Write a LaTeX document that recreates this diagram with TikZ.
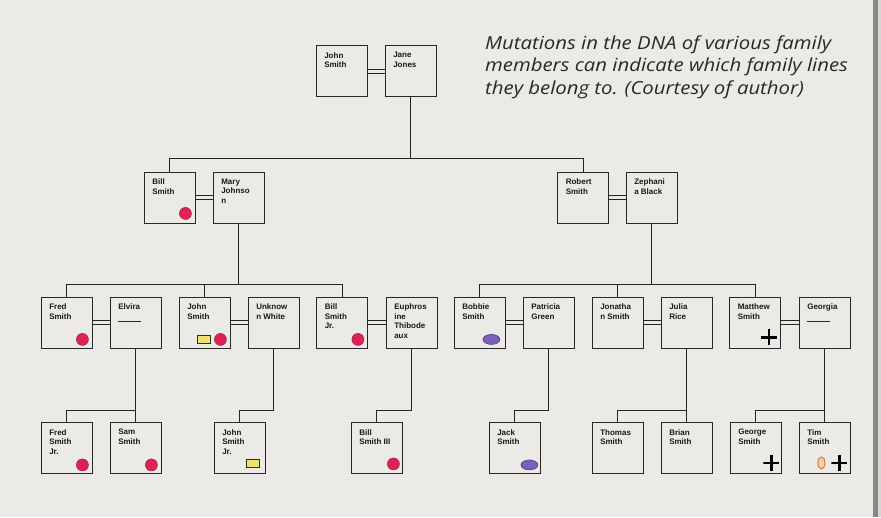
\documentclass[tikz,border=0pt]{standalone}
\usepackage{fontspec}
\setmainfont{Liberation Sans}
\newfontfamily\capfont[FakeStretch=1.13]{Open Sans}
\usetikzlibrary{shapes.geometric}
\definecolor{bgc}{RGB}{236,234,231}
\definecolor{boxc}{RGB}{40,40,40}
\definecolor{linec}{RGB}{35,35,35}
\definecolor{txtc}{RGB}{25,25,25}
\definecolor{capc}{RGB}{40,40,40}
\definecolor{redc}{RGB}{222,34,84}
\definecolor{redd}{RGB}{150,30,60}
\definecolor{purc}{RGB}{122,96,190}
\definecolor{purd}{RGB}{70,50,120}
\definecolor{yelc}{RGB}{238,226,112}
\definecolor{yeld}{RGB}{50,45,20}
\definecolor{orac}{RGB}{242,205,175}
\definecolor{orad}{RGB}{214,120,70}
\definecolor{stripc}{RGB}{135,135,135}
\definecolor{edgec}{RGB}{215,214,212}
\tikzset{
  person/.style={draw=boxc, line width=0.85pt, fill=bgc, minimum width=51pt, minimum height=51pt, inner sep=0pt},
  nm/.style={anchor=north west, inner sep=0pt, align=left, text=txtc, font=\fontsize{8}{9.5}\selectfont\bfseries},
  link/.style={draw=linec, line width=0.75pt},
  wedline/.style={draw=linec, line width=0.65pt},
  redm/.style={circle, fill=redc, draw=redd, line width=0.5pt, minimum size=12pt, inner sep=0pt},
  purm/.style={ellipse, fill=purc, draw=purd, line width=0.5pt, minimum width=17pt, minimum height=10pt, inner sep=0pt},
  yelm/.style={rectangle, fill=yelc, draw=yeld, line width=0.9pt, minimum width=13pt, minimum height=8pt, inner sep=0pt},
  oram/.style={ellipse, fill=orac, draw=orad, line width=1pt, minimum width=7pt, minimum height=12pt, inner sep=0pt},
  crossm/.style={rectangle, minimum size=16pt, inner sep=0pt,
    path picture={\draw[line width=2.8pt, black]
      (path picture bounding box.north) -- (path picture bounding box.south)
      (path picture bounding box.west) -- (path picture bounding box.east);}},
  blank/.style={draw=boxc, line width=0.9pt}
}
\newcommand{\famperson}[4]{%
  \node[person] (#1) at (#2,#3) {};
  \node[nm] (#1-t) at ([shift={(8.5,7)}]#1.north west) {#4};
}
\newcommand{\wed}[2]{%
  \draw[wedline] ([yshift=2pt]#1.east) -- ([yshift=2pt]#2.west);
  \draw[wedline] ([yshift=-2pt]#1.east) -- ([yshift=-2pt]#2.west);
}
\begin{document}
\begin{tikzpicture}[x=1pt,y=-1pt]
\fill[bgc] (0,0) rectangle (881,517);
\useasboundingbox (0,0) rectangle (881,517);
\fill[stripc] (873,0) rectangle (878,517);
\fill[edgec] (878,0) rectangle (881,517);

% caption
\node[anchor=north west, inner sep=0pt, align=left, text=capc,
      font=\capfont\itshape\fontsize{18}{22.5}\selectfont] (cap) at (485,35.5)
  {Mutations in the DNA of various family\\members can indicate which family lines\\they belong to. (Courtesy of author)};

% generation 1
\famperson{js}{341.5}{71}{John\\Smith}
\famperson{jj}{410.5}{71}{Jane\\Jones}

% generation 2
\famperson{bs}{169.5}{197.5}{Bill\\Smith}
\famperson{mj}{238.5}{197.5}{Mary\\Johnso\\n}
\famperson{rs}{583}{197.5}{Robert\\Smith}
\famperson{zb}{651.5}{197.5}{Zephani\\a Black}

% generation 3
\famperson{fs}{66.5}{322.5}{Fred\\Smith}
\famperson{el}{135.5}{322.5}{Elvira}
\famperson{jo}{204.5}{322.5}{John\\Smith}
\famperson{uw}{273.5}{322.5}{Unknow\\n White}
\famperson{bj}{342}{322.5}{Bill\\Smith\\Jr.}
\famperson{et}{411.5}{322.5}{Euphros\\ine\\Thibode\\aux}
\famperson{bo}{479.5}{322.5}{Bobbie\\Smith}
\famperson{pg}{548.5}{322.5}{Patricia\\Green}
\famperson{jn}{617.5}{322.5}{Jonatha\\n Smith}
\famperson{jr}{686.5}{322.5}{Julia\\Rice}
\famperson{ms}{755}{322.5}{Matthew\\Smith}
\famperson{ge}{824.5}{322.5}{Georgia}

% generation 4
\famperson{fj}{66.5}{448}{Fred\\Smith\\Jr.}
\famperson{ss}{135.5}{448}{Sam\\Smith}
\famperson{jj4}{239.5}{448}{John\\Smith\\Jr.}
\famperson{b3}{376.5}{448}{Bill\\Smith III}
\famperson{ja}{514.5}{448}{Jack\\Smith}
\famperson{ts}{617.5}{448}{Thomas\\Smith}
\famperson{br}{686.5}{448}{Brian\\Smith}
\famperson{gs}{755.5}{448}{George\\Smith}
\famperson{ti}{824.5}{448}{Tim\\Smith}

% blank-spouse dashes
\draw[blank] ([shift={(8,25)}]el.north west) -- ([shift={(31,25)}]el.north west);
\draw[blank] ([shift={(8,25)}]ge.north west) -- ([shift={(31,25)}]ge.north west);

% marriages
\wed{js}{jj}
\wed{bs}{mj}
\wed{rs}{zb}
\wed{fs}{el}
\wed{jo}{uw}
\wed{bj}{et}
\wed{bo}{pg}
\wed{jn}{jr}
\wed{ms}{ge}

% bars
\coordinate (r1) at (0,158);
\coordinate (r2) at (0,284);
\coordinate (r3) at (0,410);

% descent lines
\draw[link] (jj.south) -- (jj.south |- r1);
\draw[link] (bs.north) -- (bs.north |- r1) -- (rs.north |- r1) -- (rs.north);

\draw[link] (mj.south) -- (mj.south |- r2);
\draw[link] (fs.north) -- (fs.north |- r2) -- (bj.north |- r2) -- (bj.north);
\draw[link] (jo.north) -- (jo.north |- r2);

\draw[link] (zb.south) -- (zb.south |- r2);
\draw[link] (bo.north) -- (bo.north |- r2) -- (ms.north |- r2) -- (ms.north);
\draw[link] (jn.north) -- (jn.north |- r2);

\draw[link] (el.south) -- (ss.north);
\draw[link] (el.south |- r3) -- (fj.north |- r3) -- (fj.north);
\draw[link] (uw.south) -- (uw.south |- r3) -- (jj4.north |- r3) -- (jj4.north);
\draw[link] (et.south) -- (et.south |- r3) -- (b3.north |- r3) -- (b3.north);
\draw[link] (pg.south) -- (pg.south |- r3) -- (ja.north |- r3) -- (ja.north);
\draw[link] (jr.south) -- (br.north);
\draw[link] (jr.south |- r3) -- (ts.north |- r3) -- (ts.north);
\draw[link] (ge.south) -- (ti.north);
\draw[link] (ge.south |- r3) -- (gs.north |- r3) -- (gs.north);

% markers
\node[redm] (m-bs) at ([shift={(-10,-10)}]bs.south east) {};
\node[redm] (m-fs) at ([shift={(-10,-9)}]fs.south east) {};
\node[yelm] (m-jo1) at ([shift={(-26,-9)}]jo.south east) {};
\node[redm] (m-jo2) at ([shift={(-10,-9)}]jo.south east) {};
\node[redm] (m-bj) at ([shift={(-10,-9)}]bj.south east) {};
\node[purm] (m-bo) at ([shift={(-14,-9)}]bo.south east) {};
\node[crossm] (m-ms) at ([shift={(-12,-11)}]ms.south east) {};
\node[redm] (m-fj) at ([shift={(-10,-9)}]fj.south east) {};
\node[redm] (m-ss) at ([shift={(-10,-9)}]ss.south east) {};
\node[yelm] (m-jj4) at ([shift={(-12,-10)}]jj4.south east) {};
\node[redm] (m-b3) at ([shift={(-9,-10)}]b3.south east) {};
\node[purm] (m-ja) at ([shift={(-11,-9)}]ja.south east) {};
\node[crossm] (m-gs) at ([shift={(-10,-11)}]gs.south east) {};
\node[oram] (m-ti1) at ([shift={(-29,-11)}]ti.south east) {};
\node[crossm] (m-ti2) at ([shift={(-11,-11)}]ti.south east) {};
\end{tikzpicture}
\end{document}
